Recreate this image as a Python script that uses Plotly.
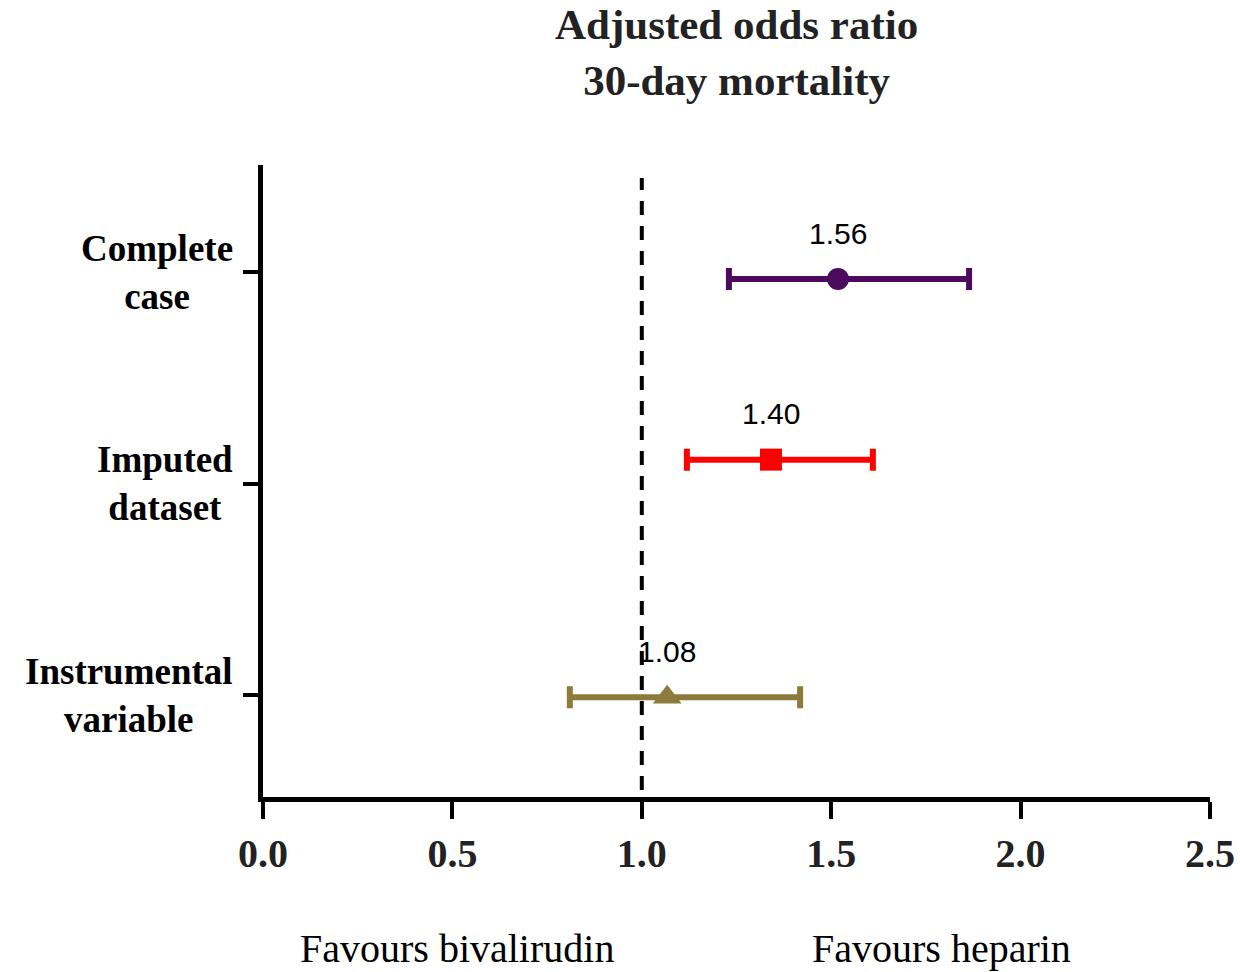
import plotly.graph_objects as go

# ---- data ----
analyses = ["Complete<br>case", "Imputed<br>dataset", "Instrumental<br>variable"]
row_pos = [2.967, 2.113, 0.99]          # vertical position of each estimate
tick_rows = [3, 2, 1]
odds_ratio = [1.518, 1.341, 1.067]
ci_low = [1.23, 1.119, 0.810]
ci_high = [1.864, 1.610, 1.418]
or_labels = ["1.56", "1.40", "1.08"]
x_ticks = [0.0, 0.5, 1.0, 1.5, 2.0, 2.5]
x_tick_text = ["0.0", "0.5", "1.0", "1.5", "2.0", "2.5"]

colors = ["#4B0A5C", "#FF0000", "#8C7B3A"]
symbols = ["circle", "square", "triangle-up"]
msizes = [22, 22, 25]

fig = go.Figure()

for i in range(len(analyses)):
    fig.add_trace(go.Scatter(
        x=[odds_ratio[i]], y=[row_pos[i]],
        mode="markers",
        marker=dict(symbol=symbols[i], size=msizes[i], color=colors[i], line=dict(width=0)),
        error_x=dict(type="data", symmetric=False,
                     array=[ci_high[i] - odds_ratio[i]],
                     arrayminus=[odds_ratio[i] - ci_low[i]],
                     color=colors[i], thickness=6, width=11),
        showlegend=False, hoverinfo="skip",
    ))
    fig.add_annotation(x=odds_ratio[i], y=row_pos[i], xref="x", yref="y",
                       text=or_labels[i], showarrow=False, yshift=46,
                       font=dict(family="Liberation Sans", size=30, color="black"))
    fig.add_annotation(x=0, y=tick_rows[i], xref="paper", yref="y",
                       text="<b>" + analyses[i] + "</b>", showarrow=False,
                       xanchor="right", yanchor="middle", align="center", xshift=-28,
                       font=dict(family="Liberation Serif", size=37, color="black"))

# reference line at OR = 1
fig.add_shape(type="line", x0=1, x1=1, y0=0.551, y1=3.444, xref="x", yref="y",
              line=dict(color="black", width=4, dash="14px,11px"))

# title
fig.add_annotation(x=0.5, y=1, xref="paper", yref="paper", yanchor="bottom",
                   xanchor="center", yshift=59, showarrow=False,
                   text="<b>Adjusted odds ratio<br>30-day mortality</b>",
                   font=dict(family="Liberation Serif", size=43, color="#222222"))

# favours labels
fig.add_annotation(x=(457 - 263) / 947, y=-0.239, xref="paper", yref="paper",
                   text="Favours bivalirudin", showarrow=False,
                   xanchor="center", yanchor="middle",
                   font=dict(family="Liberation Serif", size=40, color="black"))
fig.add_annotation(x=(941 - 263) / 947, y=-0.239, xref="paper", yref="paper",
                   text="Favours heparin", showarrow=False,
                   xanchor="center", yanchor="middle",
                   font=dict(family="Liberation Serif", size=40, color="black"))

fig.update_layout(
    width=1240, height=972,
    margin=dict(l=263, r=30, t=165, b=175, autoexpand=False),
    paper_bgcolor="white", plot_bgcolor="white",
    xaxis=dict(range=[0, 2.5], tickvals=x_ticks, ticktext=x_tick_text, automargin=False,
               showgrid=False, zeroline=False, showline=True, linewidth=5, linecolor="black",
               ticks="outside", ticklen=17, tickwidth=4, tickcolor="black",
               tickfont=dict(family="Liberation Serif", size=40, color="#222222", weight="bold")),
    yaxis=dict(range=[0.518, 3.506], tickvals=tick_rows, showticklabels=False, automargin=False,
               showgrid=False, zeroline=False, showline=True, linewidth=5, linecolor="black",
               ticks="outside", ticklen=15, tickwidth=4, tickcolor="black"),
)

fig.write_html("out.html", config={"displayModeBar": False},
               post_script="document.body.style.margin='0';")
